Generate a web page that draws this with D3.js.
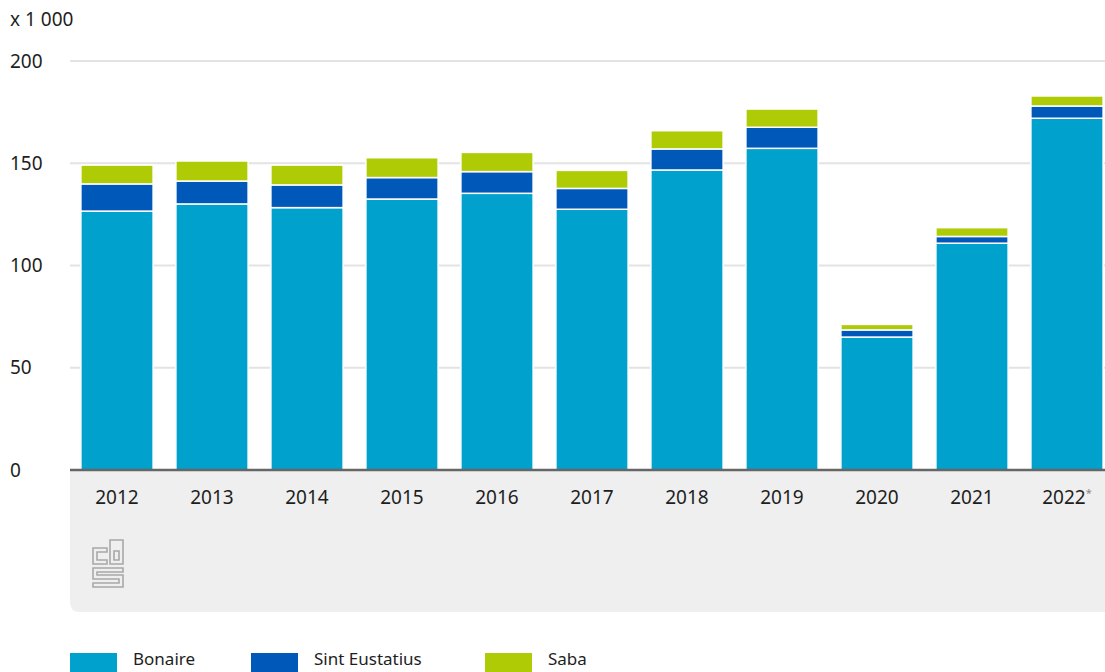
<!DOCTYPE html>
<html>
<head>
<meta charset="utf-8">
<script src="https://cdn.jsdelivr.net/npm/d3@7"></script>
<style>
  body { margin: 0; background: #fff; }
  text { font-family: "Noto Sans", sans-serif; fill: #1e1e1e; }
</style>
</head>
<body>
<svg id="svg"></svg>
<script>
// data (x 1 000)
let years = ["2012", "2013", "2014", "2015", "2016", "2017", "2018", "2019", "2020", "2021", "2022"]
let bonaire = [126.6, 130.1, 128.3, 132.5, 135.3, 127.5, 146.7, 157.3, 65.0, 110.9, 172.0]
let sintEustatius = [13.3, 11.2, 11.1, 10.5, 10.6, 10.2, 10.3, 10.3, 3.5, 3.3, 6.0]
let saba = [9.2, 9.8, 9.7, 9.7, 9.4, 8.8, 8.9, 8.9, 2.7, 4.3, 4.9]
let yTicks = [0, 50, 100, 150, 200]
let seriesNames = ["Bonaire", "Sint Eustatius", "Saba"]

// colors
let colors = ["#00a1cd", "#0058b8", "#afcb05"]

let width = 1105, height = 672
let svg = d3.select("#svg").attr("width", width).attr("height", height)

let x = d3.scaleBand().domain(years).range([69.5, 1114.5]).paddingInner(0.24).paddingOuter(0.12)
let y = d3.scaleLinear().domain([0, 200]).range([470, 61])

// grey panel under the axis
svg.append("path")
  .attr("d", "M70,470 H1120 V612 H80 Q70,612 70,602 Z")
  .attr("fill", "#efefef")

// gridlines
svg.append("g").selectAll("line")
  .data(yTicks.filter(d => d > 0))
  .join("line")
  .attr("x1", 70).attr("x2", width)
  .attr("y1", d => y(d)).attr("y2", d => y(d))
  .attr("stroke", "#e3e3e3").attr("stroke-width", 2)

// y labels
svg.append("g").selectAll("text")
  .data(yTicks)
  .join("text")
  .attr("x", 10).attr("y", d => y(d))
  .attr("dy", "0.35em")
  .attr("font-size", 19)
  .text(d => d)

svg.append("text").attr("x", 10).attr("y", 19).attr("dy", "0.35em")
  .attr("font-size", 19).text("x 1 000")

// stacked bars
let rows = years.map((yr, i) => ({ year: yr, Bonaire: bonaire[i], "Sint Eustatius": sintEustatius[i], Saba: saba[i] }))
let stack = d3.stack().keys(seriesNames)(rows)

svg.append("g").selectAll("g")
  .data(stack)
  .join("g")
  .attr("fill", (d, i) => colors[i])
  .selectAll("rect")
  .data(d => d)
  .join("rect")
  .attr("x", d => x(d.data.year))
  .attr("width", x.bandwidth())
  .attr("y", d => y(d[1]))
  .attr("height", d => y(d[0]) - y(d[1]))
  .attr("stroke", "#fff").attr("stroke-width", 1.5)

// baseline
svg.append("line")
  .attr("x1", 70).attr("x2", width)
  .attr("y1", 470).attr("y2", 470)
  .attr("stroke", "#666").attr("stroke-width", 2.5)

// x labels
let xl = svg.append("g").selectAll("text")
  .data(years)
  .join("text")
  .attr("x", d => x(d) + x.bandwidth() / 2)
  .attr("y", 497).attr("dy", "0.35em")
  .attr("text-anchor", "middle")
  .attr("font-size", 19)
  .text(d => d)
xl.filter(d => d === "2022").append("tspan")
  .attr("font-size", 11).attr("dy", "-0.6em").attr("fill", "#888").text("*")

// cbs logo (rough)
let logo = svg.append("g").attr("fill", "none").attr("stroke", "#a8a8a8").attr("stroke-width", 1.6)
logo.append("path").attr("d", "M110,548 V540 H123 V564 H110 V548 M114,551 H119 V560 H114 Z")
logo.append("path").attr("d", "M107,548 H93 V564 H107 V560 H97 V552 H107 Z")
logo.append("path").attr("d", "M93,568 H123 V572 H97 V575 H123 V587 H93 V583 H119 V579 H93 Z")

// legend
let lg = svg.append("g").selectAll("g")
  .data(seriesNames)
  .join("g")
  .attr("transform", (d, i) => `translate(${[70, 251, 485][i]},653)`)
lg.append("rect").attr("width", 47).attr("height", 19).attr("fill", (d, i) => colors[i])
lg.append("text").attr("x", 63).attr("y", 12).attr("font-size", 17).text(d => d)
</script>
</body>
</html>
